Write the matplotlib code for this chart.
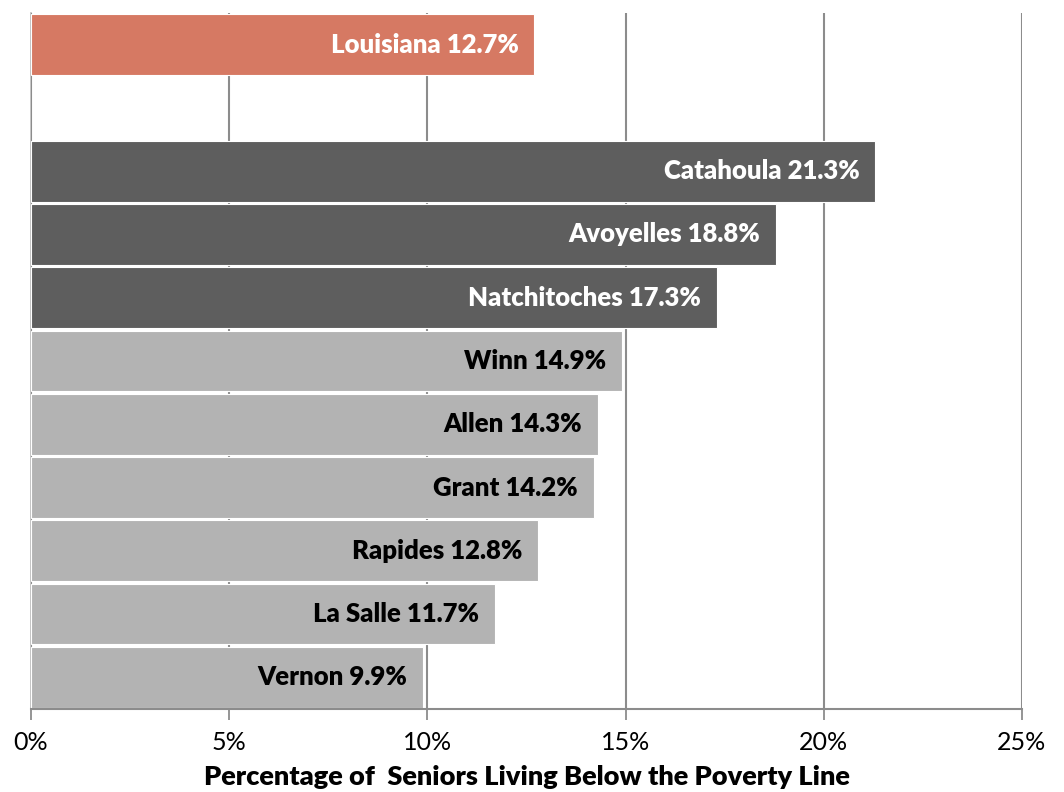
import matplotlib
matplotlib.use('Agg')
import matplotlib.pyplot as plt

# Data (percent of seniors below poverty line)
state_name = 'Louisiana'
state_value = 12.7
parishes = ['Catahoula', 'Avoyelles', 'Natchitoches', 'Winn', 'Allen',
            'Grant', 'Rapides', 'La Salle', 'Vernon']
parish_values = [21.3, 18.8, 17.3, 14.9, 14.3, 14.2, 12.8, 11.7, 9.9]
n_highlight = 3  # top parishes drawn dark
xticks = [0, 5, 10, 15, 20, 25]

STATE_COLOR = '#D67963'
DARK = '#5E5E5E'
LIGHT = '#B3B3B3'
GRID = '#8C8C8C'

plt.rcParams['font.family'] = ['Lato', 'DejaVu Sans']

fig = plt.figure(figsize=(10.64, 7.92), dpi=100)
ax = fig.add_axes([31 / 1064, 83 / 792, 991 / 1064, 696 / 792])

# rows: state at top, one empty row, then parishes
names = [state_name] + parishes
values = [state_value] + parish_values
rows = [0] + [i + 2 for i in range(len(parishes))]
colors = [STATE_COLOR] + [DARK if i < n_highlight else LIGHT
                          for i in range(len(parishes))]
text_colors = ['white'] + ['white' if i < n_highlight else 'black'
                           for i in range(len(parishes))]

ax.barh(rows, values, height=0.96, color=colors, edgecolor='white',
        linewidth=0.8, zorder=2)

for r, v, name, tc in zip(rows, values, names, text_colors):
    ax.annotate(f'{name} {v}%', xy=(v, r), xytext=(-16, 0),
                textcoords='offset pixels', ha='right', va='center',
                color=tc, fontsize=18.5, fontweight='heavy', zorder=3)

ax.set_ylim(10.5, -0.5)
ax.set_xlim(0, 25)
ax.set_yticks([])
ax.set_xticks(xticks)
ax.set_xticklabels([f'{t}%' for t in xticks], fontsize=18)
ax.tick_params(axis='x', length=8, width=1.3, color=GRID, pad=8)
ax.xaxis.grid(True, color=GRID, linewidth=1.5, zorder=0)
ax.set_axisbelow(True)

for side in ['top', 'right']:
    ax.spines[side].set_visible(False)
ax.spines['left'].set_color('#BBBBBB')
ax.spines['left'].set_linewidth(1.2)
ax.spines['left'].set_zorder(0)
ax.spines['bottom'].set_color(GRID)
ax.spines['bottom'].set_linewidth(1.5)

ax.set_xlabel('Percentage of  Seniors Living Below the Poverty Line',
              fontsize=19.5, fontweight='heavy', labelpad=8)

fig.savefig('out.png', dpi=100)
